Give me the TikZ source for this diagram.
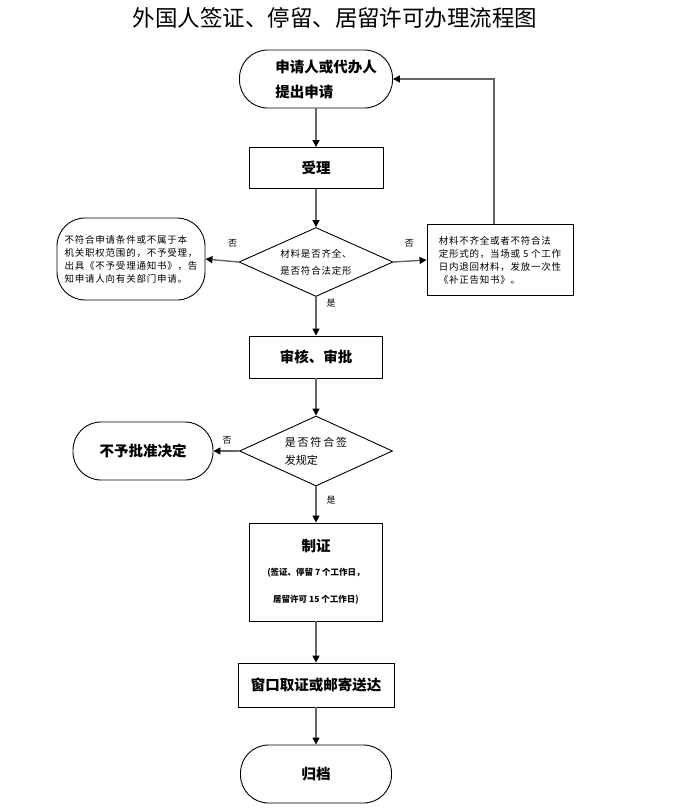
\documentclass[tikz,border=0pt]{standalone}
\usepackage{fontspec}
\setmainfont{Noto Sans CJK SC}
\newfontfamily\spaced[LetterSpace=8]{Noto Sans CJK SC}
\usetikzlibrary{shapes.geometric,arrows.meta}
\newcommand{\bigtxt}{\fontsize{14.5}{18}\selectfont\bfseries}
\newcommand{\smalltxt}{\spaced\fontsize{9.5}{13}\selectfont}
\begin{document}
\begin{tikzpicture}[x=1pt,y=-1pt,
  box/.style 2 args={draw,line width=0.9pt,minimum width=#1,minimum height=#2,inner sep=0pt},
  stadium/.style 2 args={box={#1}{#2},rounded corners=28pt},
  dia/.style 2 args={draw,diamond,line width=0.9pt,aspect=2.2,minimum width=#1,minimum height=#2,inner sep=0pt},
  line/.style={draw=black!60,line width=1.4pt,-{Triangle[length=7pt,width=7pt,color=black]}},
  lab/.style={font=\fontsize{9}{9}\selectfont}]
\fill[white](0,0)rectangle(680,812);
\node[font=\fontsize{22.5}{24}\selectfont](title) at (335,18){外国人签证、停留、居留许可办理流程图};
\node[stadium={153pt}{58pt},align=left,font=\fontsize{14.5}{25}\selectfont\bfseries](start) at (316,79){\hspace*{20pt}申请人或代办人\\\hspace*{20pt}提出申请};
\node[box={134pt}{41pt},font=\bigtxt](accept) at (316,168){受理};
\node[dia={154pt}{69pt},align=center,font=\spaced\fontsize{9.5}{17}\selectfont](check) at (316,262){材料是否齐全、\\是否符合法定形};
\node[stadium={148pt}{82pt},align=left,font=\smalltxt](refuse) at (131,259){不符合申请条件或不属于本\\机关职权范围的，不予受理，\\出具《不予受理通知书》，告\\知申请人向有关部门申请。};
\node[box={146pt}{71pt},align=left,font=\smalltxt](fix) at (500,260){材料不齐全或者不符合法\\定形式的，当场或 5 个工作\\日内退回材料，发放一次性\\《补正告知书》。};
\node[box={133pt}{42pt},font=\bigtxt](review) at (316,357){审核、审批};
\node[dia={153pt}{70pt},align=left,font=\fontsize{11}{18}\selectfont](check2) at (316,451){是\,否\,符\,合\,签\\发规定};
\node[stadium={140pt}{58pt},font=\bigtxt](deny) at (143,451){不予批准决定};
\node[box={133pt}{98pt},align=center](issue) at (316,572){{\bigtxt 制证}\\[12pt]{\fontsize{8.5}{9}\selectfont\bfseries (签证、停留 7 个工作日，}\\[15pt]{\fontsize{8.5}{9}\selectfont\bfseries 居留许可 15 个工作日)}};
\node[box={156pt}{44pt},font=\bigtxt](deliver) at (316,685){窗口取证或邮寄送达};
\node[stadium={151pt}{58pt},font=\bigtxt](archive) at (316,774){归档};

\draw[line](start.south)--(accept.north);
\draw[line](accept.south)--(check.north);
\draw[line](check.west)--(refuse.east);
\draw[line](check.east)--(fix.west);
\draw[line]([xshift=-6pt]fix.north)|-(start.east);
\draw[line](check.south)--(review.north);
\draw[line](review.south)--(check2.north);
\draw[line](check2.west)--(deny.east);
\draw[line](check2.south)--(issue.north);
\draw[line](issue.south)--(deliver.north);
\draw[line](deliver.south)--(archive.north);
\path(check.west)++(-6,-19)node[lab]{否};
\path(check.east)++(16,-19)node[lab]{否};
\path(check.south)++(15,6)node[lab]{是};
\path(check2.west)++(-12,-11)node[lab]{否};
\path(check2.south)++(15,14)node[lab]{是};
\end{tikzpicture}
\end{document}
